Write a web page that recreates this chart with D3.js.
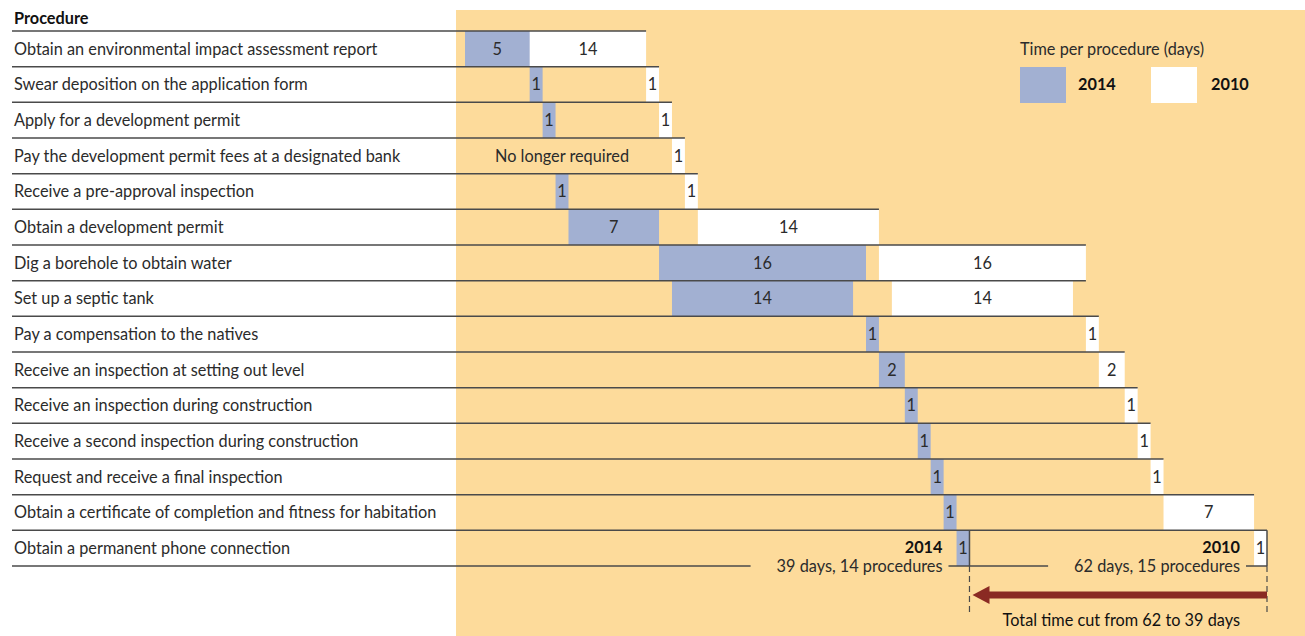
<!DOCTYPE html>
<html>
<head>
<meta charset="utf-8">
<script src="https://cdn.jsdelivr.net/npm/d3@7"></script>
<style>
  body { margin: 0; background: #fff; }
  svg { display: block; font-family: Lato, "Open Sans", sans-serif; }
</style>
</head>
<body>
<div class="chart"></div>
<script>
// procedures, top to bottom
const procedures = [
	'Obtain an environmental impact assessment report',
	'Swear deposition on the application form',
	'Apply for a development permit',
	'Pay the development permit fees at a designated bank',
	'Receive a pre-approval inspection',
	'Obtain a development permit',
	'Dig a borehole to obtain water',
	'Set up a septic tank',
	'Pay a compensation to the natives',
	'Receive an inspection at setting out level',
	'Receive an inspection during construction',
	'Receive a second inspection during construction',
	'Request and receive a final inspection',
	'Obtain a certificate of completion and fitness for habitation',
	'Obtain a permanent phone connection'
]

// day on which each procedure starts, and how long it takes (null = no longer required)
const start2014 = [0, 5, 6, null, 7, 8, 15, 16, 31, 32, 34, 35, 36, 37, 38]
const days2014 = [5, 1, 1, null, 1, 7, 16, 14, 1, 2, 1, 1, 1, 1, 1]
const start2010 = [0, 14, 15, 16, 17, 18, 32, 33, 48, 49, 51, 52, 53, 54, 61]
const days2010 = [14, 1, 1, 1, 1, 14, 16, 14, 1, 2, 1, 1, 1, 7, 1]

const years = ['2014', '2010']
const totalDays = [39, 62]
const totalProcedures = [14, 15]

const BLUE = '#a2b0d2'
const ORANGE = '#fddb9b'
const TEXT = '#2b2b2b'
const LINE = '#4a4a4a'
const RED = '#8a2a23'
const FS = 16.3

const width = 1305
const height = 636

const svg = d3.select('.chart')
	.append('svg')
	.attr('width', width)
	.attr('height', height)

const x = d3.scaleLinear()
	.domain([0, 62])
	.range([465, 1267])

const y = d3.scaleBand()
	.domain(d3.range(procedures.length))
	.range([31, 566])

const mid = i => y(i) + y.bandwidth() / 2

const rowEnd = i => {
	const e10 = start2010[i] + days2010[i]
	const e14 = start2014[i] == null ? 0 : start2014[i] + days2014[i]
	return Math.max(e10, e14)
}

// orange panel
svg.append('rect')
	.attr('x', 456)
	.attr('y', 10)
	.attr('width', width - 456)
	.attr('height', height - 10)
	.attr('fill', ORANGE)

svg.append('text')
	.attr('x', 14)
	.attr('y', 18)
	.attr('dy', '0.35em')
	.attr('font-size', FS)
	.attr('font-weight', 'bold')
	.attr('fill', '#111')
	.text('Procedure')

const rows = svg.append('g')
	.selectAll('g')
	.data(d3.range(procedures.length))
	.join('g')

// 2010 bars (white)
rows.append('rect')
	.attr('x', i => x(start2010[i]))
	.attr('y', i => y(i))
	.attr('width', i => x(start2010[i] + days2010[i]) - x(start2010[i]))
	.attr('height', y.bandwidth())
	.attr('fill', '#fff')

// 2014 bars (blue)
rows.filter(i => start2014[i] != null)
	.append('rect')
	.attr('x', i => x(start2014[i]))
	.attr('y', i => y(i))
	.attr('width', i => x(start2014[i] + days2014[i]) - x(start2014[i]))
	.attr('height', y.bandwidth())
	.attr('fill', BLUE)

rows.append('text')
	.attr('x', 14)
	.attr('y', mid)
	.attr('dy', '0.35em')
	.attr('font-size', FS)
	.attr('fill', TEXT)
	.text(i => procedures[i])

// value labels
const labelFont = sel => sel
	.attr('dy', '0.35em')
	.attr('font-size', FS)
	.attr('text-anchor', 'middle')
	.attr('fill', TEXT)

rows.append('text')
	.attr('x', i => {
		const s = start2010[i]
		const e = s + days2010[i]
		const covered = start2014[i] != null && start2014[i] <= s ? start2014[i] + days2014[i] : s
		return (x(Math.max(s, covered)) + x(e)) / 2
	})
	.attr('y', mid)
	.call(labelFont)
	.text(i => days2010[i])

rows.append('text')
	.attr('x', i => start2014[i] == null
		? (x(0) + x(start2010[i - 1])) / 2
		: (x(start2014[i]) + x(start2014[i] + days2014[i])) / 2)
	.attr('y', mid)
	.call(labelFont)
	.text(i => start2014[i] == null ? 'No longer required' : days2014[i])

// row separators, each as long as the longer of its two neighbouring rows
const sep = d3.range(procedures.length).map(i => ({
	y: y(i),
	end: i === 0 ? rowEnd(0) : Math.max(rowEnd(i - 1), rowEnd(i))
}))

svg.append('g')
	.selectAll('line')
	.data(sep)
	.join('line')
	.attr('x1', 12)
	.attr('x2', d => x(d.end))
	.attr('y1', d => d.y)
	.attr('y2', d => d.y)
	.attr('stroke', LINE)
	.attr('stroke-width', 1.5)

// totals below the last row
const last = procedures.length - 1
const baseY = y.range()[1]
const totals = svg.append('g')

years.forEach((yr, k) => {
	const xe = x(totalDays[k])
	totals.append('text')
		.attr('x', xe - 27)
		.attr('y', mid(last) - 1)
		.attr('dy', '0.35em')
		.attr('text-anchor', 'end')
		.attr('font-size', FS)
		.attr('font-weight', 'bold')
		.attr('fill', '#111')
		.text(yr)

	const t = totals.append('text')
		.attr('x', xe - 27)
		.attr('y', baseY)
		.attr('dy', '0.35em')
		.attr('text-anchor', 'end')
		.attr('font-size', FS)
		.attr('fill', TEXT)
		.text(`${totalDays[k]} days, ${totalProcedures[k]} procedures`)

	const bb = t.node().getBBox()
	const from = k === 0 ? 12 : x(totalDays[k - 1])
	totals.append('line')
		.attr('x1', from)
		.attr('x2', bb.x - 26)
		.attr('y1', baseY)
		.attr('y2', baseY)
		.attr('stroke', LINE)
		.attr('stroke-width', 1.5)
	totals.append('line')
		.attr('x1', bb.x + bb.width + 6)
		.attr('x2', xe)
		.attr('y1', baseY)
		.attr('y2', baseY)
		.attr('stroke', LINE)
		.attr('stroke-width', 1.5)

	// solid edge on the last row, dashed below
	totals.append('line')
		.attr('x1', xe)
		.attr('x2', xe)
		.attr('y1', y(last))
		.attr('y2', baseY)
		.attr('stroke', LINE)
		.attr('stroke-width', 1.5)
	totals.append('line')
		.attr('x1', xe)
		.attr('x2', xe)
		.attr('y1', baseY)
		.attr('y2', 614)
		.attr('stroke', LINE)
		.attr('stroke-width', 1.2)
		.attr('stroke-dasharray', '6,4')
})

// arrow from 62 back to 39
const arrowY = 595
totals.append('line')
	.attr('x1', x(totalDays[1]))
	.attr('x2', x(totalDays[0]) + 14)
	.attr('y1', arrowY)
	.attr('y2', arrowY)
	.attr('stroke', RED)
	.attr('stroke-width', 7)
totals.append('path')
	.attr('d', `M${x(totalDays[0]) + 3},${arrowY} L${x(totalDays[0]) + 20},${arrowY - 9} L${x(totalDays[0]) + 20},${arrowY + 9} Z`)
	.attr('fill', RED)

totals.append('text')
	.attr('x', x(totalDays[1]) - 27)
	.attr('y', 620)
	.attr('dy', '0.35em')
	.attr('text-anchor', 'end')
	.attr('font-size', FS)
	.attr('fill', '#111')
	.text(`Total time cut from ${totalDays[1]} to ${totalDays[0]} days`)

// legend
const legend = svg.append('g').attr('transform', 'translate(1020,0)')
legend.append('text')
	.attr('x', 0)
	.attr('y', 49)
	.attr('dy', '0.35em')
	.attr('font-size', FS)
	.attr('fill', TEXT)
	.text('Time per procedure (days)')

const swatch = [BLUE, '#fff']
years.forEach((yr, k) => {
	legend.append('rect')
		.attr('x', k * 131)
		.attr('y', 67)
		.attr('width', 46)
		.attr('height', 36)
		.attr('fill', swatch[k])
	legend.append('text')
		.attr('x', k * 131 + 58 + k * 2)
		.attr('y', 84)
		.attr('dy', '0.35em')
		.attr('font-size', FS)
		.attr('font-weight', 'bold')
		.attr('fill', '#111')
		.text(yr)
})
</script>
</body>
</html>
